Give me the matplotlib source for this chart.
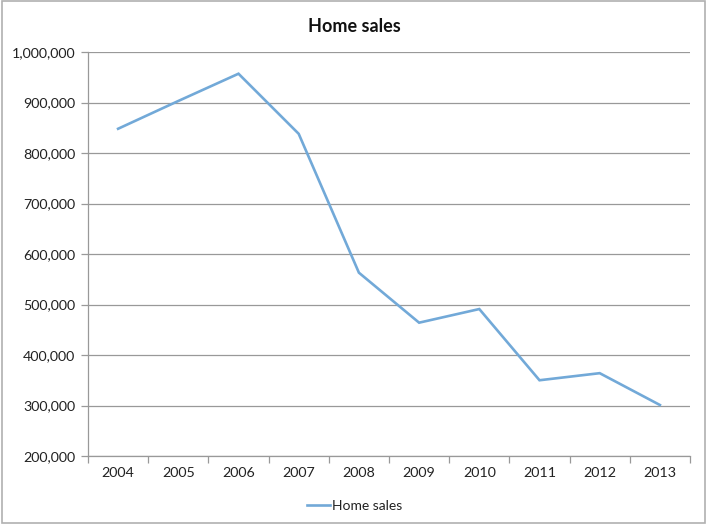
import matplotlib
matplotlib.use("Agg")
import matplotlib.pyplot as plt
from matplotlib.patches import Rectangle
from matplotlib.ticker import FuncFormatter

years = ["2004", "2005", "2006", "2007", "2008", "2009", "2010", "2011", "2012", "2013"]
home_sales = [848000, 903000, 957000, 838000, 563000, 464000, 491000, 350000, 364000, 301000]
y_ticks = [200000, 300000, 400000, 500000, 600000, 700000, 800000, 900000, 1000000]

plt.rcParams['font.family'] = ['Lato', 'DejaVu Sans']

W, H = 721, 530
fig = plt.figure(figsize=(W / 100, H / 100), dpi=100)

# outer chart border
fig.patches.append(Rectangle((2 / W, 1 - 523 / H), 703 / W, 522 / H, transform=fig.transFigure,
                             fill=False, edgecolor='#b0b0b0', linewidth=1.2))

left, right, top, bottom = 88, 690, 52, 456
ax = fig.add_axes([left / W, 1 - bottom / H, (right - left) / W, (bottom - top) / H])

x = list(range(len(years)))
line, = ax.plot(x, home_sales, color='#72A9D8', linewidth=1.9, label='Home sales',
                solid_joinstyle='miter')

ax.set_xlim(-0.5, len(years) - 0.5)
ax.set_ylim(200000, 1000000)
ax.set_yticks(y_ticks)
ax.yaxis.set_major_formatter(FuncFormatter(lambda v, p: f"{int(v):,}"))
ax.set_xticks(x)
ax.set_xticklabels(years)
ax.set_xticks([i - 0.5 for i in range(len(years) + 1)], minor=True)

ax.grid(axis='y', color='#999999', linewidth=0.9)
ax.set_axisbelow(True)
for s in ['top', 'right']:
    ax.spines[s].set_visible(False)
for s in ['left', 'bottom']:
    ax.spines[s].set_color('#999999')
    ax.spines[s].set_linewidth(0.9)

ax.tick_params(axis='x', which='major', length=0, pad=8, labelsize=10.3, labelcolor='#222222')
ax.tick_params(axis='x', which='minor', length=5, color='#999999', width=0.9)
ax.tick_params(axis='y', which='major', length=5, color='#999999', width=0.9, pad=4,
               labelsize=10.3, labelcolor='#222222')

fig.text(354 / W, 1 - 26 / H, 'Home sales', ha='center', va='center',
         fontsize=13, fontweight='bold', color='#111111')

fig.legend(handles=[line], loc='center', bbox_to_anchor=(355 / W, 1 - 506 / H), frameon=False,
           fontsize=10, handlelength=1.6, handletextpad=0.2, labelcolor='#222222')

fig.savefig('out.png', dpi=100)
